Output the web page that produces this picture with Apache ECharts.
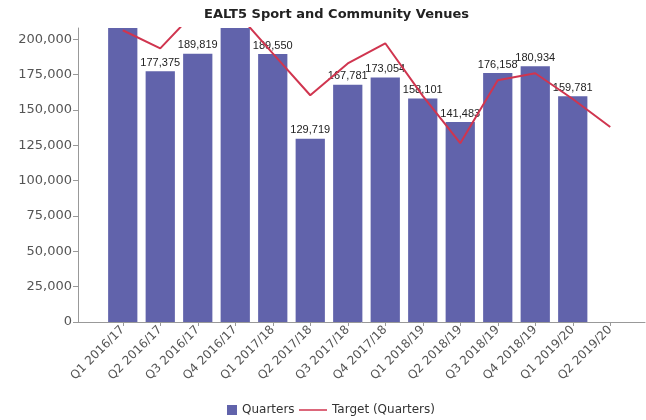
<!DOCTYPE html>
<html>
<head>
<meta charset="utf-8">
<script src="https://cdn.jsdelivr.net/npm/echarts@6/dist/echarts.min.js"></script>
<style>html,body{margin:0;padding:0;background:#fff}#c{width:646px;height:420px}</style>
</head>
<body>
<div id="c"></div>
<script>
var categories = ['Q1 2016/17','Q2 2016/17','Q3 2016/17','Q4 2016/17','Q1 2017/18','Q2 2017/18','Q3 2017/18','Q4 2017/18','Q1 2018/19','Q2 2018/19','Q3 2018/19','Q4 2018/19','Q1 2019/20','Q2 2019/20'];
var quarters = [214000, 177375, 189819, 216000, 189550, 129719, 167781, 173054, 158101, 141483, 176158, 180934, 159781, null];
var target = [206400, 193600, 221500, 220000, 190100, 160400, 182900, 197200, 160000, 126500, 171000, 176000, 157800, 138000];
var yTicks = [0, 25000, 50000, 75000, 100000, 125000, 150000, 175000, 200000];
var yMax = 208000;

var chart = echarts.init(document.getElementById('c'), null, {renderer: 'canvas'});
var fmt = function (v) { return v.toLocaleString('en-US'); };
var legendText = {fontFamily: 'DejaVu Sans', fontSize: 12, color: '#333'};
chart.setOption({
  animation: false,
  backgroundColor: '#fff',
  title: {
    text: 'EALT5 Sport and Community Venues',
    left: 199, top: 3,
    textStyle: {fontFamily: 'DejaVu Sans', fontSize: 13, fontWeight: 'bold', color: '#222'}
  },
  legend: [
    {
      left: 222, top: 399,
      itemWidth: 10, itemHeight: 10, itemGap: 5,
      textStyle: legendText,
      data: [{name: 'Quarters', icon: 'rect'}]
    },
    {
      left: 294, top: 399,
      itemWidth: 28, itemHeight: 10, itemGap: 5,
      textStyle: legendText,
      data: [{name: 'Target (Quarters)', icon: 'path://M0,0H28V1.5H0Z'}]
    }
  ],
  grid: [
    {left: 104, right: 17, top: 28, bottom: 98},
    {left: 78, right: 1, top: 28, bottom: 98}
  ],
  xAxis: [
    {
      type: 'category', data: categories, gridIndex: 0,
      axisLine: {show: false},
      axisTick: {show: true, alignWithLabel: true, length: 4, lineStyle: {color: '#999'}},
      axisLabel: {rotate: 45, interval: 0, fontFamily: 'DejaVu Sans', fontSize: 12, color: '#555', margin: 6},
      splitLine: {show: false}
    },
    {
      type: 'value', gridIndex: 1, min: 0, max: 1,
      axisLine: {show: true, lineStyle: {color: '#999'}},
      axisTick: {show: false}, axisLabel: {show: false}, splitLine: {show: false}
    }
  ],
  yAxis: [
    {
      type: 'value', gridIndex: 0, min: 0, max: yMax, offset: 26,
      axisLine: {show: true, lineStyle: {color: '#999'}},
      axisTick: {show: true, length: 5, customValues: yTicks, lineStyle: {color: '#999'}},
      axisLabel: {customValues: yTicks, formatter: fmt, fontFamily: 'DejaVu Sans', fontSize: 13, color: '#555', margin: 6},
      splitLine: {show: false}
    },
    {
      type: 'value', gridIndex: 1, min: 0, max: 1, show: false
    }
  ],
  series: [
    {
      name: 'Quarters', type: 'bar', data: quarters, barCategoryGap: '22%',
      itemStyle: {color: '#6163ab'},
      label: {
        show: true, position: 'top', distance: 3,
        fontFamily: 'Liberation Sans', fontSize: 11, color: '#222',
        formatter: function (p) { return p.value > yMax ? '' : fmt(p.value); }
      },
      z: 2
    },
    {
      name: 'Target (Quarters)', type: 'line', data: target,
      symbol: 'none', showSymbol: false,
      lineStyle: {color: '#d0354f', width: 2},
      itemStyle: {color: '#d0354f'},
      z: 5
    }
  ]
});
</script>
</body>
</html>
